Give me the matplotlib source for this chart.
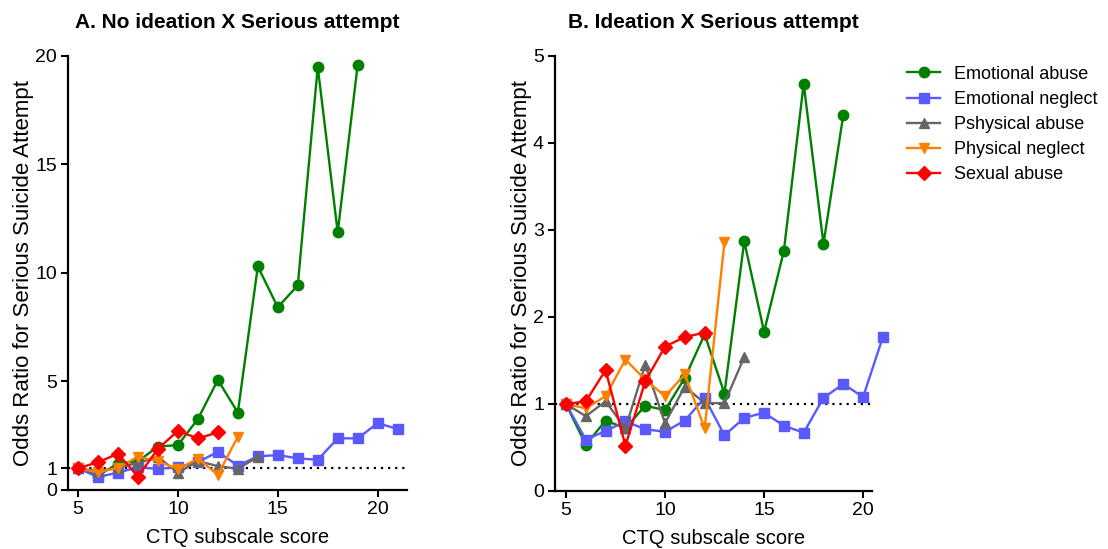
import matplotlib

matplotlib.use("Agg")
import matplotlib.pyplot as plt

plt.rcParams["font.family"] = ["Liberation Sans", "DejaVu Sans"]

labels = ["Emotional abuse", "Emotional neglect", "Pshysical abuse", "Physical neglect", "Sexual abuse"]
colors = ["#008000", "#5959ff", "#666666", "#ff8000", "#ff0000"]
markers = ["o", "s", "^", "v", "D"]
starts = [5, 5, 5, 5, 5]

# panel A: no ideation X serious attempt
ea_a = [1.0, 0.66, 1.22, 1.32, 2.0, 2.07, 3.27, 5.07, 3.57, 10.3, 8.42, 9.43, 19.5, 11.87, 19.6]
en_a = [1.0, 0.6, 0.8, 1.05, 0.97, 1.05, 1.28, 1.76, 1.12, 1.55, 1.61, 1.46, 1.39, 2.38, 2.38, 3.08, 2.81]
pa_a = [1.0, 0.87, 1.02, 1.25, 1.53, 0.79, 1.33, 1.1, 0.98, 1.52]
pn_a = [1.0, 0.82, 1.02, 1.53, 1.33, 0.96, 1.45, 0.7, 2.45]
sa_a = [1.0, 1.28, 1.67, 0.62, 1.9, 2.72, 2.38, 2.65]

# panel B: ideation X serious attempt
ea_b = [1.0, 0.53, 0.81, 0.72, 0.98, 0.93, 1.30, 1.80, 1.12, 2.87, 1.83, 2.76, 4.68, 2.84, 4.32]
en_b = [1.0, 0.59, 0.69, 0.80, 0.71, 0.68, 0.81, 1.07, 0.64, 0.84, 0.90, 0.75, 0.67, 1.07, 1.23, 1.08, 1.77]
pa_b = [1.0, 0.86, 1.03, 0.72, 1.45, 0.78, 1.20, 1.01, 1.01, 1.54]
pn_b = [1.0, 0.95, 1.09, 1.51, 1.28, 1.09, 1.34, 0.72, 2.86]
sa_b = [1.0, 1.03, 1.39, 0.52, 1.26, 1.66, 1.77, 1.82]

panels = [
    ("A. No ideation X Serious attempt", [ea_a, en_a, pa_a, pn_a, sa_a], (4.5, 21.45), 20, [0, 1, 5, 10, 15, 20]),
    ("B. Ideation X Serious attempt", [ea_b, en_b, pa_b, pn_b, sa_b], (4.45, 20.45), 5, [0, 1, 2, 3, 4, 5]),
]

fig = plt.figure(figsize=(11.08, 5.49), dpi=100)
rects = [[0.0614, 0.1075, 0.3056, 0.7905], [0.501, 0.1057, 0.286, 0.7923]]

for rect, (title, series, xlim, ytop, yticks) in zip(rects, panels):
    ax = fig.add_axes(rect)
    for vals, s, c, m, lab in zip(series, starts, colors, markers, labels):
        xs = list(range(s, s + len(vals)))
        ax.plot(xs, vals, color=c, marker=m, markersize=7.5, linewidth=1.7, label=lab, clip_on=False)
    ax.axhline(1, color="black", linestyle=(0, (1, 2.2)), linewidth=1.6, zorder=0)
    ax.set_xlim(*xlim)
    ax.set_ylim(0, ytop)
    ax.set_xticks([5, 10, 15, 20])
    ax.set_yticks(yticks)
    for side in ("top", "right"):
        ax.spines[side].set_visible(False)
    for side in ("left", "bottom"):
        ax.spines[side].set_linewidth(1.6)
    ax.tick_params(width=1.5, length=5, labelsize=14, pad=3)
    ax.set_xlabel("CTQ subscale score", fontsize=14.5, labelpad=7)
    ax.set_ylabel("Odds Ratio for Serious Suicide Attempt", fontsize=16, labelpad=1)
    ax.set_title(title, fontsize=15, fontweight="bold", pad=20)

ax.legend(loc="upper left", bbox_to_anchor=(1.06, 1.015), frameon=False, fontsize=13,
          handlelength=1.8, labelspacing=0.45)

fig.savefig("out.png", dpi=100)
